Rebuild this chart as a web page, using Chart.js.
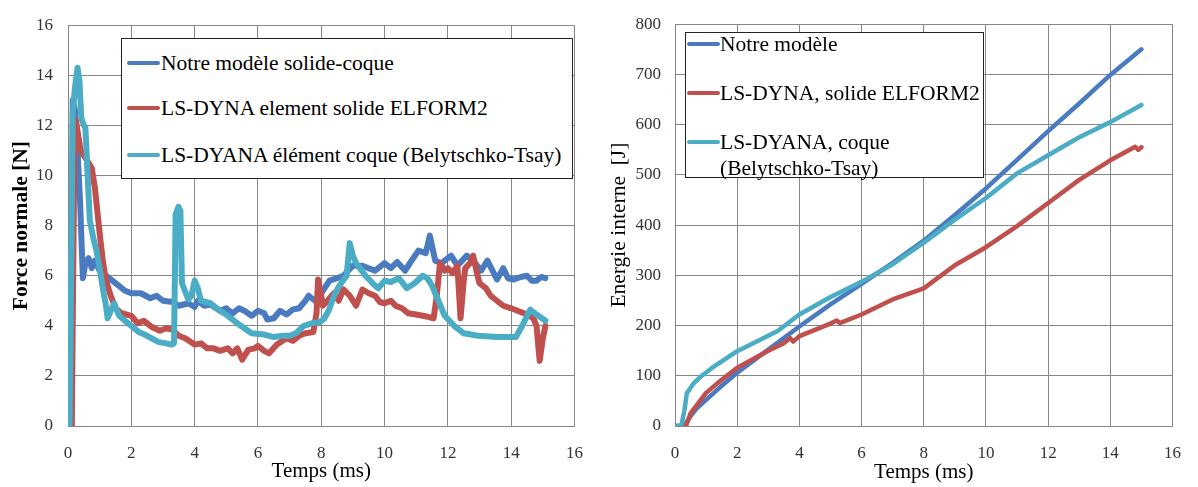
<!DOCTYPE html>
<html lang="fr">
<head>
<meta charset="UTF-8">
<title>Force normale et énergie interne</title>
<script src="https://cdn.jsdelivr.net/npm/chart.js"></script>
<style>
  body { margin: 0; background: #fff; font-family: "Liberation Serif", "Times New Roman", serif; }
  #wrap { position: relative; width: 1198px; height: 487px; overflow: hidden; }
  canvas { position: absolute; top: 0; }
  .legend { position: absolute; border: 1px solid #222; background: #fff; box-sizing: border-box; }
  .legend .row { position: absolute; font-size: 21.5px; line-height: 26px; color: #000; white-space: pre; }
  .legend .swatch { position: absolute; width: 33px; height: 4px; border-radius: 2px; }
</style>
</head>
<body>
<div id="wrap">
  <canvas id="forceChart" width="600" height="487" style="left:0"></canvas>
  <canvas id="energyChart" width="598" height="487" style="left:600px"></canvas>
  <div id="forceLegend" class="legend" style="left:121px; top:38px; width:452px; height:141px"></div>
  <div id="energyLegend" class="legend" style="left:685px; top:32px; width:299px; height:146px"></div>
</div>

<script>
  // ---- left chart : force normale [N] vs temps (ms)
  const forceLabels = [
    'Notre modèle solide-coque',
    'LS-DYNA element solide ELFORM2',
    'LS-DYANA élément coque (Belytschko-Tsay)'
  ];

  const tForceBlue = [0.1, 0.15, 0.22, 0.3, 0.38, 0.47, 0.55, 0.65, 0.75, 0.85, 1.0, 1.2, 1.4, 1.6, 1.8, 2.0, 2.3, 2.6, 2.8, 3.0, 3.3, 3.5, 3.8, 4.0, 4.1, 4.3, 4.5, 4.8, 5.0, 5.2, 5.4, 5.57, 5.8, 6.0, 6.2, 6.3, 6.5, 6.7, 6.9, 7.1, 7.3, 7.5, 7.6, 7.8, 8.0, 8.26, 8.5, 8.7, 9.0, 9.3, 9.5, 9.7, 10.0, 10.2, 10.4, 10.65, 10.85, 11.07, 11.3, 11.43, 11.6, 11.8, 12.1, 12.3, 12.6, 12.8, 13.05, 13.25, 13.55, 13.75, 13.9, 14.08, 14.3, 14.5, 14.65, 14.8, 14.95, 15.08];
  const forceBlue  = [0, 13.0, 12.6, 11.0, 9.0, 5.9, 6.5, 6.7, 6.3, 6.6, 6.2, 6.0, 5.8, 5.6, 5.4, 5.3, 5.3, 5.1, 5.2, 5.0, 4.95, 4.8, 4.9, 4.75, 5.0, 4.8, 4.85, 4.6, 4.7, 4.5, 4.7, 4.6, 4.4, 4.6, 4.5, 4.25, 4.3, 4.6, 4.45, 4.65, 4.7, 5.0, 5.2, 5.0, 5.3, 5.8, 5.9, 6.0, 6.4, 6.4, 6.3, 6.2, 6.5, 6.3, 6.55, 6.2, 6.6, 7.0, 6.9, 7.6, 6.6, 6.5, 6.8, 6.4, 6.8, 6.6, 6.2, 6.6, 5.85, 6.3, 5.9, 5.85, 5.95, 6.0, 5.8, 5.8, 5.95, 5.9];

  const tForceRed = [0.12, 0.2, 0.25, 0.31, 0.4, 0.5, 0.6, 0.75, 0.85, 1.0, 1.1, 1.2, 1.35, 1.5, 1.7, 2.0, 2.2, 2.4, 2.65, 2.9, 3.1, 3.3, 3.5, 3.7, 4.0, 4.2, 4.4, 4.6, 4.8, 5.05, 5.2, 5.35, 5.5, 5.7, 5.9, 6.0, 6.2, 6.35, 6.6, 6.9, 7.1, 7.3, 7.5, 7.75, 7.85, 7.9, 8.0, 8.05, 8.2, 8.4, 8.55, 8.7, 8.9, 9.1, 9.3, 9.5, 9.7, 9.85, 10.0, 10.2, 10.35, 10.55, 10.75, 11.0, 11.2, 11.4, 11.55, 11.65, 11.75, 11.9, 12.0, 12.15, 12.3, 12.4, 12.5, 12.55, 12.7, 12.8, 12.9, 13.0, 13.2, 13.35, 13.55, 13.75, 14.0, 14.3, 14.5, 14.7, 14.8, 14.9, 15.0, 15.08];
  const forceRed  = [0, 11.0, 12.2, 11.7, 11.0, 10.8, 10.6, 10.3, 9.5, 7.7, 6.6, 5.8, 5.2, 4.7, 4.5, 4.4, 4.1, 4.2, 3.95, 3.8, 3.9, 3.85, 3.6, 3.5, 3.25, 3.3, 3.1, 3.1, 3.0, 3.1, 2.9, 3.1, 2.65, 3.05, 3.1, 3.2, 3.0, 2.9, 3.25, 3.5, 3.4, 3.6, 3.7, 3.75, 4.5, 5.85, 5.2, 4.8, 5.0, 5.3, 5.0, 5.45, 5.2, 4.8, 5.45, 5.3, 5.2, 4.95, 4.9, 5.0, 4.8, 4.7, 4.5, 4.45, 4.4, 4.35, 4.3, 5.2, 6.5, 6.2, 6.3, 6.1, 6.4, 4.3, 5.8, 6.3, 6.5, 6.8, 6.2, 5.7, 5.5, 5.2, 5.0, 4.8, 4.7, 4.55, 4.45, 4.3, 4.0, 2.6, 3.5, 4.0];

  const tForceCyan = [0.05, 0.1, 0.15, 0.22, 0.3, 0.36, 0.42, 0.5, 0.55, 0.62, 0.69, 0.8, 0.9, 1.0, 1.1, 1.2, 1.25, 1.35, 1.46, 1.55, 1.62, 1.8, 2.0, 2.24, 2.5, 2.87, 3.1, 3.27, 3.35, 3.4, 3.49, 3.55, 3.6, 3.8, 3.9, 4.0, 4.1, 4.2, 4.5, 4.8, 5.05, 5.4, 5.8, 6.2, 6.5, 6.8, 7.0, 7.2, 7.45, 7.7, 7.95, 8.1, 8.25, 8.4, 8.57, 8.8, 8.9, 9.0, 9.1, 9.4, 9.7, 9.8, 10.0, 10.2, 10.45, 10.7, 10.95, 11.2, 11.35, 11.5, 11.7, 11.9, 12.2, 12.5, 12.95, 13.55, 14.15, 14.35, 14.6, 14.8, 15.08];
  const forceCyan  = [0, 6.0, 12.5, 13.5, 14.3, 13.8, 12.3, 12.0, 11.9, 10.0, 8.2, 7.5, 7.0, 6.3, 5.5, 4.8, 4.3, 4.6, 4.9, 4.6, 4.4, 4.2, 4.0, 3.75, 3.6, 3.35, 3.3, 3.25, 3.3, 8.45, 8.75, 8.6, 5.7, 5.05, 5.2, 5.8, 5.5, 5.0, 4.9, 4.6, 4.4, 4.05, 3.7, 3.65, 3.55, 3.6, 3.6, 3.7, 4.0, 4.1, 4.15, 4.3, 4.65, 5.2, 5.6, 6.0, 7.3, 6.8, 6.5, 6.0, 5.6, 5.5, 5.8, 5.75, 5.9, 5.5, 5.7, 6.0, 5.9, 5.6, 5.0, 4.4, 4.0, 3.7, 3.6, 3.55, 3.55, 4.0, 4.65, 4.45, 4.2];

  // ---- right chart : énergie interne [J] vs temps (ms)
  const energyLabels = [
    'Notre modèle',
    'LS-DYNA, solide ELFORM2',
    'LS-DYANA, coque\n(Belytschko-Tsay)'
  ];

  const tEnergyBlue = [0, 0.3, 0.5, 0.7, 1, 1.5, 2, 3, 4, 5, 6, 7, 8, 9, 10, 11, 12, 13, 14, 15];
  const energyBlue  = [0, 0, 20, 35, 52, 80, 106, 152, 198, 242, 283, 325, 369, 420, 473, 530, 587, 642, 699, 750];

  const tEnergyRed = [0, 0.35, 0.5, 1, 1.5, 2, 3, 3.5, 3.7, 3.8, 4, 5, 5.2, 5.3, 6, 7, 8, 9, 10, 11, 12, 13, 14, 14.8, 14.9, 15];
  const energyRed  = [0, 0, 25, 66, 92, 116, 150, 165, 175, 168, 179, 204, 210, 205, 222, 252, 274, 320, 356, 398, 444, 490, 529, 556, 550, 555];

  const tEnergyCyan = [0, 0.2, 0.3, 0.38, 0.6, 0.8, 1.2, 2, 3.3, 4, 5, 6, 7, 8, 9, 10, 11, 12, 13, 14, 15];
  const energyCyan  = [0, 0, 30, 65, 85, 97, 116, 149, 189, 222, 257, 287, 322, 365, 411, 454, 503, 539, 575, 605, 639];

  const colors = ['#4a7bc0', '#c0504d', '#4bacc6'];
  const axisColor = '#868686';
  const tickColor = '#333333';
  const serif = '"Liberation Serif", "Times New Roman", serif';

  const pts = (t, v) => t.map((x, i) => ({ x: x, y: v[i] }));

  function makeDatasets(labels, series, width) {
    // cyan drawn on top, like the original
    return series.map((s, i) => ({
      label: labels[i],
      data: s,
      borderColor: colors[i],
      backgroundColor: colors[i],
      borderWidth: width,
      order: 2 - i
    }));
  }

  function makeOptions(o) {
    return {
      responsive: false,
      animation: false,
      layout: { padding: { top: o.top, right: o.right, left: 0, bottom: 0 } },
      elements: {
        point: { radius: 0 },
        line: { tension: 0, borderJoinStyle: 'round', borderCapStyle: 'round' }
      },
      plugins: { legend: { display: false }, tooltip: { enabled: false } },
      scales: {
        x: {
          type: 'linear', min: 0, max: 16,
          ticks: { stepSize: 2, padding: 17, color: tickColor, font: { family: serif, size: 17 } },
          grid: { color: axisColor, drawTicks: false },
          border: { color: axisColor },
          title: { display: true, text: 'Temps (ms)', color: '#000', padding: { top: 0, bottom: o.xTitlePad },
                   font: { family: serif, size: 21 } },
          afterFit: s => { s.height = 61; }
        },
        y: {
          min: 0, max: o.ymax,
          ticks: { stepSize: o.ystep, padding: o.yTickPad, color: tickColor, font: { family: serif, size: 17 } },
          grid: { color: axisColor, drawTicks: false },
          border: { color: axisColor },
          title: { display: true, text: o.ytitle, color: '#000', padding: { top: o.yTitlePad, bottom: 0 },
                   font: { family: serif, size: 21.5, weight: o.yBold ? 'bold' : 'normal' } },
          afterFit: s => { s.width = o.yWidth; }
        }
      }
    };
  }

  const forceChart = new Chart(document.getElementById('forceChart'), {
    type: 'line',
    data: { datasets: makeDatasets(forceLabels,
      [pts(tForceBlue, forceBlue), pts(tForceRed, forceRed), pts(tForceCyan, forceCyan)], 6) },
    options: makeOptions({ top: 17, right: 18, yWidth: 68, ymax: 16, ystep: 2, yTickPad: 15,
      ytitle: 'Force normale [N]', yBold: true, yTitlePad: 9, xTitlePad: 3 })
  });

  const energyChart = new Chart(document.getElementById('energyChart'), {
    type: 'line',
    data: { datasets: makeDatasets(energyLabels,
      [pts(tEnergyBlue, energyBlue), pts(tEnergyRed, energyRed), pts(tEnergyCyan, energyCyan)], 4.5) },
    options: makeOptions({ top: 19, right: 16, yWidth: 75, ymax: 800, ystep: 100, yTickPad: 14,
      ytitle: 'Energie interne  [J]', yBold: false, yTitlePad: 6, xTitlePad: 2 })
  });

  // html legends inside the plot areas
  function buildLegend(el, chart, rowTops, swatchLeft, textLeft) {
    chart.data.datasets.forEach((ds, i) => {
      const row = document.createElement('div');
      row.className = 'row';
      row.style.top = (rowTops[i] - 13) + 'px';
      row.style.left = textLeft + 'px';
      row.textContent = ds.label;
      const sw = document.createElement('div');
      sw.className = 'swatch';
      sw.style.background = ds.borderColor;
      sw.style.top = (rowTops[i] - 2) + 'px';
      sw.style.left = swatchLeft + 'px';
      el.appendChild(sw);
      el.appendChild(row);
    });
  }

  buildLegend(document.getElementById('forceLegend'), forceChart, [24, 69, 116], 5, 39);
  buildLegend(document.getElementById('energyLegend'), energyChart, [11, 60, 109], 1, 34);
</script>
</body>
</html>
